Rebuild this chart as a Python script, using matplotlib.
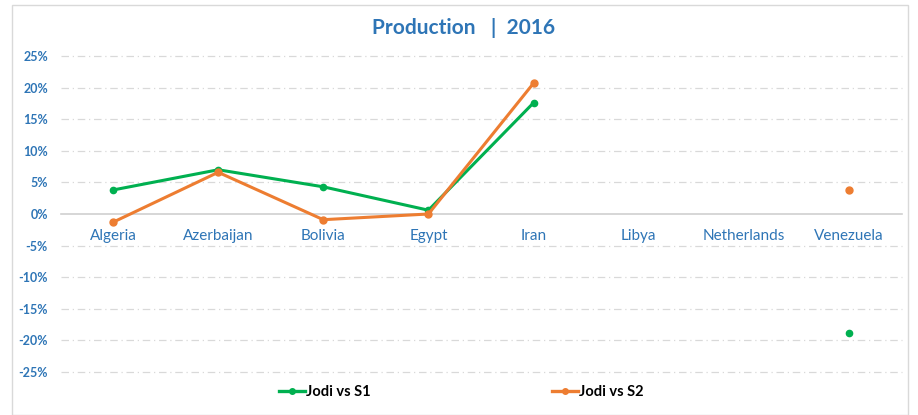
import matplotlib
matplotlib.use("Agg")
import matplotlib.pyplot as plt
import numpy as np
from matplotlib.patches import Rectangle
from matplotlib.lines import Line2D

categories = ["Algeria", "Azerbaijan", "Bolivia", "Egypt", "Iran", "Libya", "Netherlands", "Venezuela"]
jodi_vs_s1 = [3.8, 7.0, 4.3, 0.6, 17.6, np.nan, np.nan, -18.8]
jodi_vs_s2 = [-1.3, 6.6, -0.9, 0.0, 20.7, np.nan, np.nan, 3.8]
yticks = [25, 20, 15, 10, 5, 0, -5, -10, -15, -20, -25]
title = "Production   |  2016"

blue = "#2E75B6"
green = "#00B050"
orange = "#ED7D31"
font = "Lato"

fig = plt.figure(figsize=(9.18, 4.15), dpi=100)
fig.patches.append(Rectangle((12/918, 0), 896/918, 1 - 5/415, transform=fig.transFigure,
                             fill=False, edgecolor="#D9D9D9", linewidth=1))
ax = fig.add_axes([60.5/918, 1 - 372/415, (901.5 - 60.5)/918, (372 - 56)/415])
x = np.arange(len(categories))

for t in yticks:
    if t == 0:
        ax.axhline(t, color="#D0D0D0", linewidth=1.2, zorder=1, clip_on=False)
    else:
        ax.axhline(t, color="#D9D9D9", linewidth=0.9, linestyle=(0, (6, 3, 1, 3)), zorder=1, clip_on=False)

ax.plot(x, jodi_vs_s1, color=green, linewidth=2.2, marker="o", markersize=4.5, zorder=3)
ax.plot(x, jodi_vs_s2, color=orange, linewidth=2.2, marker="o", markersize=5, zorder=3)

ax.set_xlim(-0.5, len(categories) - 0.5)
ax.set_ylim(-25, 25)
ax.set_yticks(yticks)
ax.set_yticklabels([f"{t}%" for t in yticks], color=blue, fontweight="bold", fontsize=9, family=font)
ax.tick_params(axis="y", length=0, pad=9)
ax.set_xticks([])
for i, c in enumerate(categories):
    ax.text(i, -3.5, c, ha="center", va="center", color=blue, fontsize=11, family=font)
for s in ax.spines.values():
    s.set_visible(False)

fig.text(464/918, 1 - 28/415, title, ha="center", va="center", color=blue,
         fontsize=15, fontweight="bold", family=font)

handles = [Line2D([], [], color=green, linewidth=2.4, marker="o", markersize=4),
           Line2D([], [], color=orange, linewidth=2.4, marker="o", markersize=4)]
for h, lab, xp in zip(handles, ["Jodi vs S1", "Jodi vs S2"], [277, 550]):
    fig.legend([h], [lab], loc="center left", bbox_to_anchor=(xp/918 - 0.012, 1 - 392/415),
               frameon=False, prop={"family": font, "weight": "bold", "size": 10.5},
               handlelength=1.75, handletextpad=0.1)

fig.savefig("out.png", dpi=100)
